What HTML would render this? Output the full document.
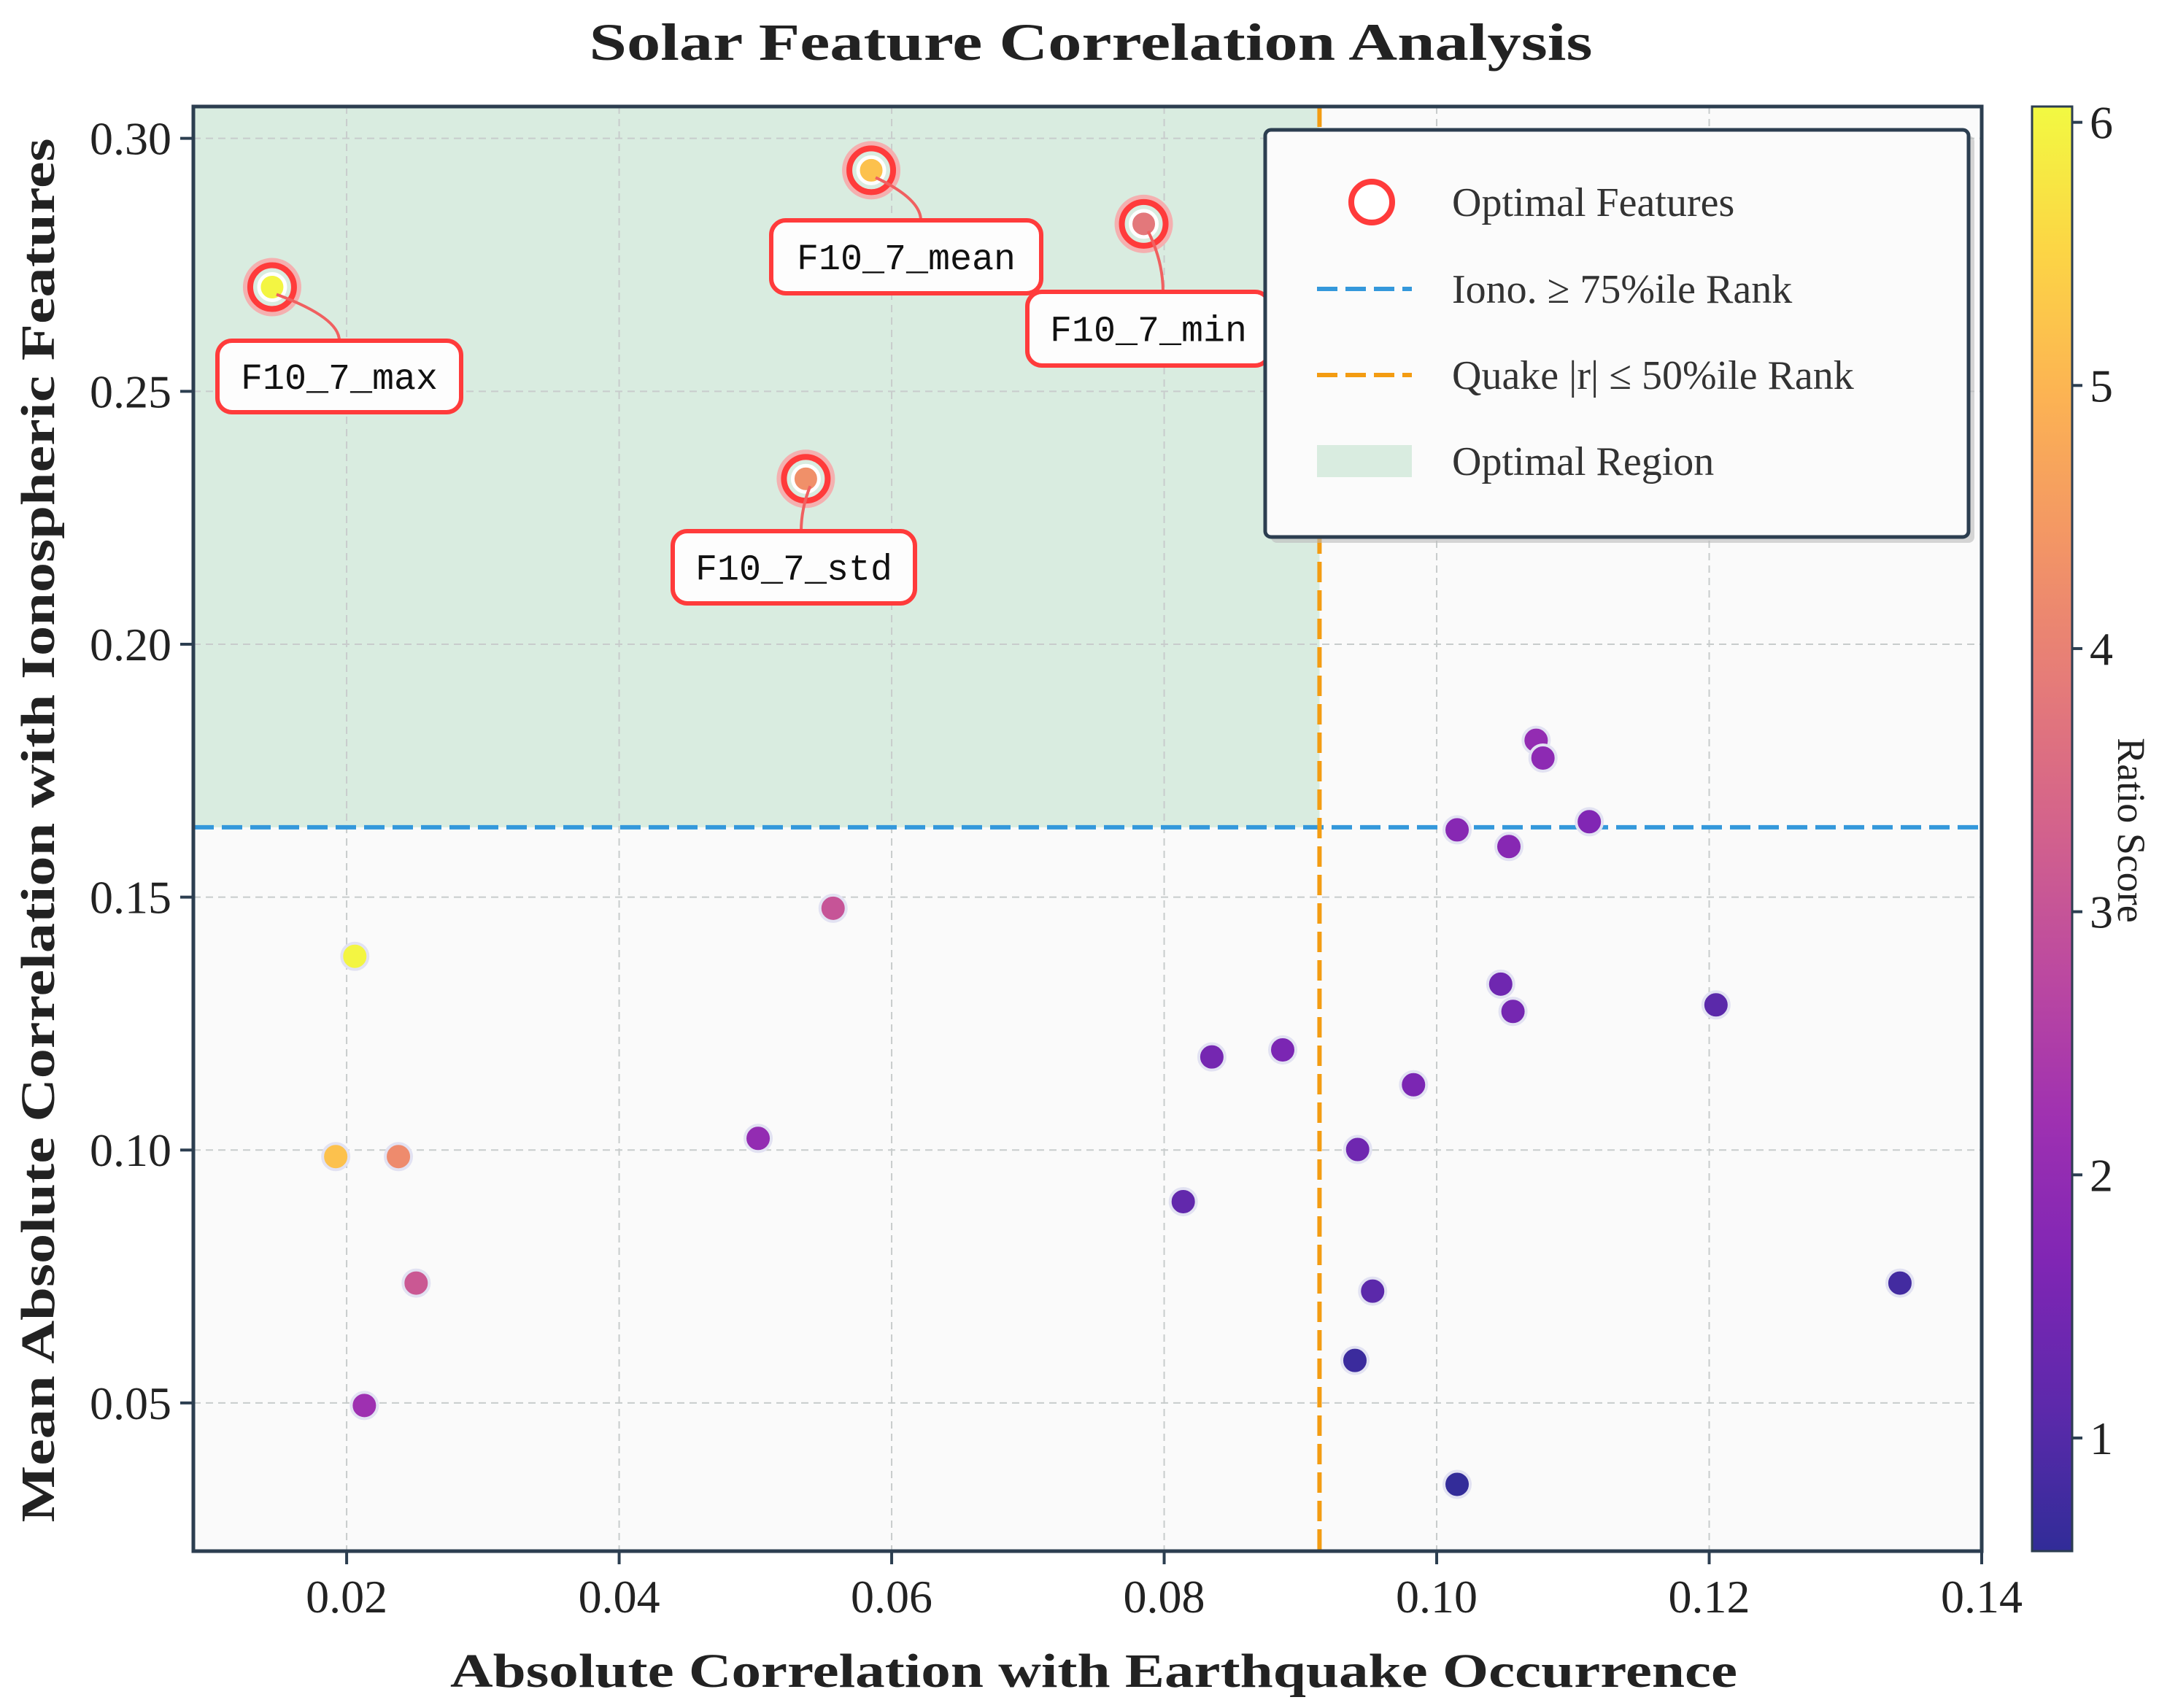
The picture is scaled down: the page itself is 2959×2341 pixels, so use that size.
<!DOCTYPE html>
<html><head><meta charset="utf-8"><style>
html,body{margin:0;padding:0;background:#fff;}
svg{display:block;font-family:"Liberation Serif",serif;}
</style></head><body>
<svg id="chart" width="2959" height="2341" viewBox="0 0 2959 2341" xmlns="http://www.w3.org/2000/svg">
<text x="1495" y="82" text-anchor="middle" font-size="72" font-weight="bold" fill="#222" textLength="1375" lengthAdjust="spacingAndGlyphs">Solar Feature Correlation Analysis</text>
<g id="plot"></g>
<text x="1499" y="2312" text-anchor="middle" font-size="66" font-weight="bold" fill="#222" textLength="1764" lengthAdjust="spacingAndGlyphs">Absolute Correlation with Earthquake Occurrence</text>
<text transform="translate(74,1138) rotate(-90)" text-anchor="middle" font-size="66" font-weight="bold" fill="#222" textLength="1897" lengthAdjust="spacingAndGlyphs">Mean Absolute Correlation with Ionospheric Features</text>
<text transform="translate(2903,1138) rotate(90)" text-anchor="middle" font-size="54" fill="#222">Ratio Score</text>
</svg>
<script>
const xTicks=[0.02,0.04,0.06,0.08,0.10,0.12,0.14];
const yTicks=[0.05,0.10,0.15,0.20,0.25,0.30];
const cTicks=[1,2,3,4,5,6];
const xVals=[0.1073,0.1078,0.1112,0.1015,0.1053,0.0557,0.0206,0.1205,0.1047,0.1056,0.0887,0.0835,0.0983,0.0502,0.0942,0.0192,0.0238,0.0814,0.0251,0.0953,0.1340,0.0940,0.0213,0.1015];
const yVals=[0.1810,0.1775,0.1649,0.1633,0.1600,0.1478,0.1383,0.1287,0.1328,0.1274,0.1198,0.1184,0.1129,0.1023,0.1001,0.0987,0.0987,0.0898,0.0737,0.0721,0.0737,0.0584,0.0495,0.0339];
const cVals=[2.0,1.9,1.7,1.8,1.8,3.0,6.0,1.1,1.4,1.5,1.6,1.5,1.6,2.0,1.4,5.2,4.2,1.2,3.1,1.1,0.8,0.7,2.2,0.6];
const optNames=["F10_7_max","F10_7_mean","F10_7_min","F10_7_std"];
const optX=[0.01453,0.0585,0.0785,0.0537];
const optY=[0.2706,0.2937,0.2831,0.2327];
const optC=[6.0,5.2,3.8,4.3];
const ionoThreshold=0.1638;
const quakeThreshold=0.0914;

const L=265,R=2716,T=146,B=2126;
const xMin=0.00875,xMax=0.14,yMin=0.0207,yMax=0.3063,cMin=0.57,cMax=6.06;
const X=v=>L+(v-xMin)/(xMax-xMin)*(R-L);
const Y=v=>B-(v-yMin)/(yMax-yMin)*(B-T);
const CB={l:2785,r:2840,t:146,b:2126};
const CY=v=>CB.b-(v-cMin)/(cMax-cMin)*(CB.b-CB.t);
const stops=["#0d0887","#41049d","#6a00a8","#8f0da4","#b12a90","#cc4778","#e16462","#f2844b","#fca636","#fcce25","#f0f921"];
function hex(h){return [1,3,5].map(i=>parseInt(h.substr(i,2),16));}
function cmap(v){let t=Math.max(0,Math.min(1,(v-cMin)/(cMax-cMin)))*10;let i=Math.min(9,Math.floor(t)),f=t-i;const a=hex(stops[i]),b=hex(stops[i+1]);
 const c=a.map((x,k)=>x+(b[k]-x)*f).map(x=>Math.round(x*0.85+250*0.15));return `rgb(${c.join(',')})`;}
const NS="http://www.w3.org/2000/svg";
const svg=document.getElementById('chart');
const g=document.getElementById('plot');
function mk(tag,attrs,parent){const e=document.createElementNS(NS,tag);for(const k in attrs)e.setAttribute(k,attrs[k]);(parent||g).appendChild(e);return e;}

let e=mk('rect',{x:L,y:T,width:R-L,height:B-T,fill:'#fafafa'});


e=mk('rect',{x:L,y:T,width:X(quakeThreshold)-L,height:Y(ionoThreshold)-T,fill:'#d9ece0'});


xTicks.forEach(v=>{
 if(X(v)<R-2){e=mk('line',{x1:X(v),x2:X(v),y1:T,y2:B,stroke:'#c8cccc','stroke-width':2,'stroke-dasharray':'10,7'});
 
 }
 e=mk('line',{x1:X(v),x2:X(v),y1:B,y2:B+18,stroke:'#2c3e50','stroke-width':4});
 
 
 e=mk('text',{x:X(v),y:B+84,'text-anchor':'middle','font-size':64,fill:'#222'});e.textContent=v.toFixed(2);
 
 
});
yTicks.forEach(v=>{
 e=mk('line',{x1:L,x2:R,y1:Y(v),y2:Y(v),stroke:'#c8cccc','stroke-width':2,'stroke-dasharray':'10,7'});
 
 
 e=mk('line',{x1:L-18,x2:L,y1:Y(v),y2:Y(v),stroke:'#2c3e50','stroke-width':4});
 
 
 e=mk('text',{x:L-30,y:Y(v)+22,'text-anchor':'end','font-size':64,fill:'#222'});e.textContent=v.toFixed(2);
 
 
});
e=mk('line',{x1:L,x2:R,y1:Y(ionoThreshold),y2:Y(ionoThreshold),stroke:'#3498db','stroke-width':6,'stroke-dasharray':'28,11'});


e=mk('line',{x1:X(quakeThreshold),x2:X(quakeThreshold),y1:T,y2:B,stroke:'#f39c12','stroke-width':6,'stroke-dasharray':'28,11'});


xVals.forEach((v,i)=>{
 e=mk('circle',{cx:X(v),cy:Y(yVals[i]),r:18,fill:cmap(cVals[i]),stroke:'#e2e2f2','stroke-width':4});
 
 
});
const boxes=[[298,467,334,98],[1057,302,370,100],[1408,400,332,101],[922,728,332,99]];
const anchorDx=[0,20,20,10];
optX.forEach((v,i)=>{
 const cx=X(v),cy=Y(optY[i]);
 e=mk('circle',{cx:cx,cy:cy,r:33,fill:'none',stroke:'#f4b0b0','stroke-width':14});
 
 
 e=mk('circle',{cx:cx,cy:cy,r:18,fill:cmap(optC[i]),stroke:'#fff','stroke-width':5});
 
 
 e=mk('circle',{cx:cx,cy:cy,r:30,fill:'none',stroke:'#ff3b3b','stroke-width':8});
 
 
 const b=boxes[i];const bx=b[0]+b[2]/2+anchorDx[i],by=cy<b[1]?b[1]:b[1]+b[3];
 const ex=cx+6,ey=cy+(by>cy?10:-10);
 e=mk('path',{d:`M${bx},${by} Q${bx},${(by+ey)/2} ${ex},${ey}`,fill:'none',stroke:'#f06060','stroke-width':4});
 
 
 e=mk('rect',{x:b[0],y:b[1],width:b[2],height:b[3],rx:20,fill:'#fdfdfd',stroke:'#ff3b3b','stroke-width':6});
 
 
 e=mk('text',{x:b[0]+b[2]/2,y:b[1]+b[3]/2+17,'text-anchor':'middle','font-size':50,fill:'#111','font-family':'"Liberation Mono",monospace'});e.textContent=optNames[i];
 
 
});
e=mk('rect',{x:L,y:T,width:R-L,height:B-T,fill:'none',stroke:'#2c3e50','stroke-width':5});


const lg=mk('g',{});


mk('rect',{x:1742,y:186,width:964,height:558,rx:8,fill:'#bbb',opacity:0.6},lg);
mk('rect',{x:1734,y:178,width:964,height:558,rx:8,fill:'#fbfbfb',stroke:'#2c3e50','stroke-width':5},lg);
const lgY=[277,396,514,632];
const lgT=["Optimal Features","Iono. \u2265 75%ile Rank","Quake |r| \u2264 50%ile Rank","Optimal Region"];
e=mk('circle',{cx:1880,cy:lgY[0],r:28,fill:'#fff',stroke:'#ff3b3b','stroke-width':8},lg);


e=mk('line',{x1:1805,x2:1935,y1:lgY[1],y2:lgY[1],stroke:'#3498db','stroke-width':6,'stroke-dasharray':'28,11'},lg);


e=mk('line',{x1:1805,x2:1935,y1:lgY[2],y2:lgY[2],stroke:'#f39c12','stroke-width':6,'stroke-dasharray':'28,11'},lg);


e=mk('rect',{x:1805,y:lgY[3]-22,width:130,height:44,fill:'#d9ece0'},lg);


lgT.forEach((t,i)=>{e=mk('text',{x:1990,y:lgY[i]+19,'font-size':56,fill:'#333'},lg);e.textContent=t;
 
 });
const defs=mk('defs',{},svg);
const gr=mk('linearGradient',{id:'cbg',x1:0,y1:1,x2:0,y2:0},defs);
for(let k=0;k<=20;k++){const v=cMin+(cMax-cMin)*k/20;mk('stop',{offset:k/20,'stop-color':cmap(v)},gr);}
e=mk('rect',{x:CB.l,y:CB.t,width:CB.r-CB.l,height:CB.b-CB.t,fill:'url(#cbg)',stroke:'#2c3e50','stroke-width':3});


cTicks.forEach(v=>{
 e=mk('line',{x1:CB.r,x2:CB.r+14,y1:CY(v),y2:CY(v),stroke:'#2c3e50','stroke-width':4});
 
 
 e=mk('text',{x:CB.r+24,y:CY(v)+22,'font-size':64,fill:'#222'});e.textContent=v;
 
 
});
</script>
</body></html>
